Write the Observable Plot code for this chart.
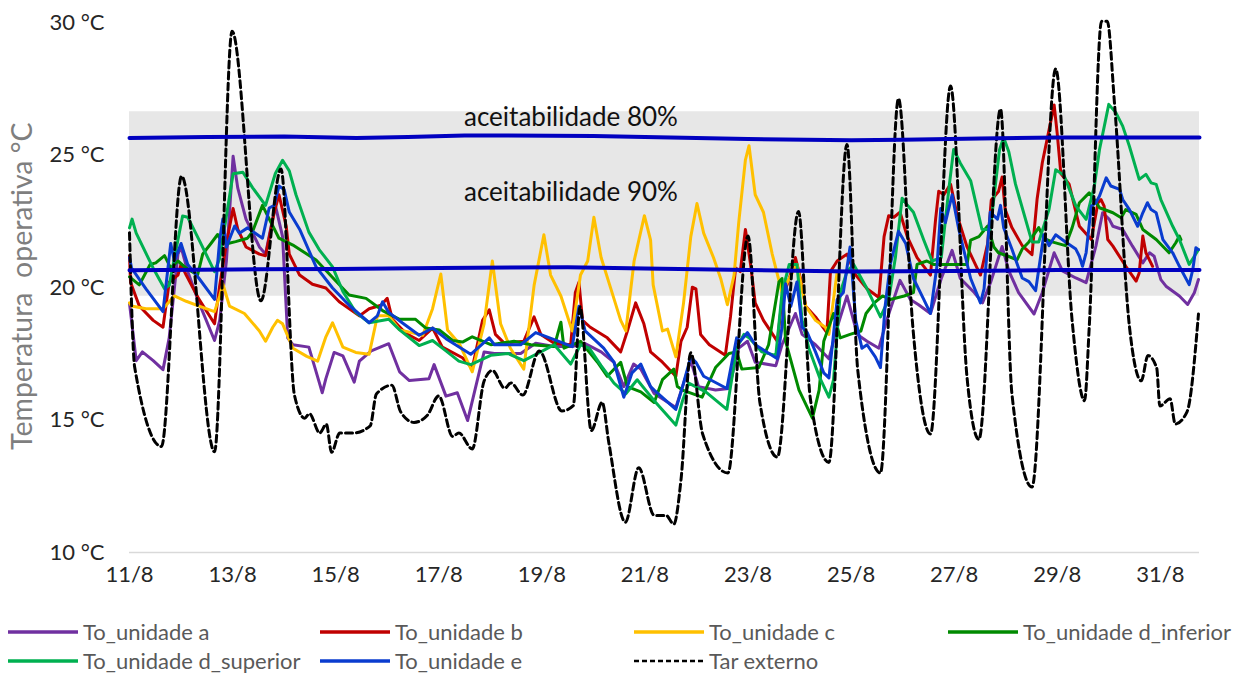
<!DOCTYPE html>
<html><head><meta charset="utf-8">
<script src="https://cdn.jsdelivr.net/npm/d3@7"></script>
<script src="https://cdn.jsdelivr.net/npm/@observablehq/plot@0.6"></script>
<style>
body{margin:0;background:#fff;font-family:Lato,"Open Sans",sans-serif;}
#chart{width:1256px;height:600px;}
#legend{position:relative;width:1256px;height:73px;}
.item{position:absolute;display:flex;align-items:center;height:26px;line-height:26px;font-size:22px;color:#595959;white-space:nowrap;}
.item svg{margin-right:5px;}
</style></head><body>
<div id="chart"></div><div id="legend"></div>
<script>
// day of August (fractional), temperature °C
const unidadeA = [[11.0,19.4],[11.13,17.24],[11.25,17.57],[11.46,17.24],[11.65,16.9],[11.77,18.1],[11.94,21.26],[12.0,21.53],[12.13,20.6],[12.35,19.42],[12.65,18.0],[12.75,18.76],[12.88,21.0],[13.01,24.95],[13.1,23.76],[13.26,22.58],[13.52,21.53],[13.64,21.26],[13.83,23.1],[13.97,21.92],[14.07,18.1],[14.17,17.84],
[14.48,17.75],[14.68,16.43],[14.74,16.03],[14.81,16.56],[14.97,17.55],[15.14,17.42],[15.36,16.43],[15.46,17.22],[15.69,17.61],[16.03,17.88],[16.24,16.82],[16.43,16.49],[16.81,16.56],[16.91,17.09],[17.14,15.9],[17.36,16.03],[17.56,14.98],
[17.88,17.57],[18.08,17.51],[18.59,17.51],[18.88,17.9],[19.24,17.77],[19.59,17.77],[19.82,17.9],[20.15,17.57],[20.4,17.18],[20.59,16.26],[20.78,17.11],[20.92,16.92],[21.18,16.0],
[21.6,15.47],[21.73,16.26],[21.89,17.24],[22.04,16.26],[22.37,16.13],[22.63,16.19],[22.82,17.71],[22.99,17.97],[23.14,17.18],[23.54,17.05],[23.66,17.84],[23.92,19.02],[24.05,18.23],[24.31,17.84],
[24.57,17.31],[24.73,18.5],[24.92,19.68],[25.12,18.23],[25.31,17.97],[25.54,17.71],[25.69,18.76],[25.95,20.27],[26.15,19.55],[26.31,19.35],[26.54,19.02],[26.75,20.34],[26.96,21.4],[27.12,20.34],[27.39,19.81],[27.55,19.42],[27.71,20.21],
[27.93,21.55],[28.06,20.63],[28.25,19.81],[28.55,19.0],[28.71,19.81],[28.94,21.31],[29.1,20.63],[29.36,20.36],
[29.56,20.18],[29.75,21.56],[29.88,22.82],[30.01,22.57],[30.08,22.31],[30.27,22.19],[30.46,21.56],[30.66,20.93],[30.79,21.31],[30.88,21.18],[31.01,20.3],[31.11,20.05],[31.37,19.68],[31.53,19.36],[31.66,19.8],[31.74,20.3]];

const unidadeB = [[11.0,21.2],[11.02,20.2],[11.19,19.3],[11.46,18.76],[11.65,18.5],[11.77,20.2],[11.94,20.47],[12.0,20.87],[12.1,20.47],[12.35,19.55],[12.65,18.63],[12.75,20.08],[12.88,21.66],[13.01,22.98],[13.1,22.2],[13.26,21.53],[13.52,21.26],[13.64,21.2],[13.81,22.85],[13.9,23.5],[14.04,22.32],[14.1,21.26],[14.3,20.47],
[14.55,20.12],[14.81,19.98],[15.07,19.46],[15.46,18.93],[15.65,19.2],[15.88,19.33],[16.0,19.59],[16.1,18.8],[16.36,18.27],[16.62,18.0],[16.88,18.47],[17.07,17.75],[17.46,17.35],[17.65,16.95],
[17.85,18.76],[17.98,19.16],[18.1,18.23],[18.27,17.9],[18.65,17.97],[18.85,18.89],[18.98,18.23],[19.24,17.9],[19.56,17.84],[19.65,19.81],[19.72,20.2],[19.79,18.76],[19.94,18.5],[20.27,18.1],[20.53,17.57],[20.66,18.36],[20.82,19.42],[20.98,18.63],[21.11,17.57],
[21.34,17.18],[21.6,16.65],[21.7,17.97],[21.82,18.5],[21.92,20.01],[21.99,19.95],[22.08,18.23],[22.25,17.84],[22.56,17.44],[22.66,18.89],[22.76,20.74],[22.85,20.6],[22.95,22.19],[23.05,20.87],[23.14,19.42],[23.3,18.76],[23.57,17.97],[23.66,19.55],[23.8,20.34],[23.92,21.13],[24.02,20.34],[24.12,19.29],[24.31,18.89],
[24.53,18.3],[24.6,20.6],[24.73,21.0],[24.92,21.26],[25.09,20.47],[25.31,19.95],[25.54,19.62],[25.64,21.92],[25.73,22.71],[25.83,22.65],[25.95,22.84],[26.09,21.92],[26.28,21.13],[26.54,20.47],[26.64,22.58],[26.7,23.63],[26.8,23.5],[26.93,23.9],[27.06,22.71],[27.25,21.53],[27.51,20.47],[27.65,21.66],[27.72,23.3],
[27.86,23.62],[27.93,24.17],[27.99,22.94],[28.12,22.26],[28.32,21.58],[28.51,21.24],[28.61,23.35],[28.71,24.71],[28.84,25.94],[28.94,26.89],[29.0,25.8],[29.07,24.3],[29.23,23.9],
[29.43,22.31],[29.66,21.81],[29.79,23.2],[29.85,23.32],[29.91,23.07],[29.98,21.81],[30.08,21.56],[30.33,20.8],[30.53,20.24],[30.59,20.55],[30.66,21.94],[30.72,21.31],[30.85,20.8]];

const unidadeC = [[11.0,19.42],[11.04,19.3],[11.32,19.2],[11.65,19.2],[11.87,19.68],[12.1,19.48],[12.35,19.3],[12.65,19.09],[12.75,19.68],[12.81,20.14],[12.94,19.3],[13.23,19.02],[13.52,18.36],[13.64,17.97],[13.78,18.5],[13.87,18.76],[13.97,18.63],[14.17,17.71],
[14.44,17.4],[14.65,17.22],[14.81,18.14],[14.94,18.67],[15.14,17.75],[15.39,17.55],[15.65,17.48],[15.81,18.93],[16.03,18.93],[16.24,18.4],[16.69,18.2],[16.88,19.2],[17.04,20.51],[17.17,18.4],[17.4,17.88],[17.65,16.82],
[17.88,18.63],[18.04,21.0],[18.2,18.63],[18.39,17.71],[18.65,16.92],[18.85,20.08],[19.04,21.99],[19.17,20.47],[19.37,19.68],[19.59,18.36],[19.75,20.47],[19.89,21.0],[20.01,22.65],[20.15,21.13],[20.34,19.95],[20.53,18.76],[20.63,18.36],[20.79,21.0],[20.99,22.71],[21.11,21.79],[21.16,20.1],
[21.34,18.36],[21.44,18.43],[21.6,17.38],[21.75,19.42],[21.89,21.92],[22.01,23.17],[22.14,22.05],[22.33,21.13],[22.47,20.34],[22.6,19.35],[22.73,20.47],[22.82,22.45],[22.95,24.82],[23.02,25.35],[23.14,23.5],[23.3,22.84],[23.47,21.26],[23.59,20.34],[23.66,19.81],[23.8,20.34],[23.95,20.87],[24.12,19.29],[24.31,18.76],[24.5,18.5],[24.57,18.23],[24.73,20.6]];

const unidadeDInf = [[11.0,20.4],[11.19,20.1],[11.4,20.87],[11.51,20.93],[11.68,21.2],[11.8,20.73],[11.94,21.0],[12.1,20.73],[12.32,20.47],[12.42,21.26],[12.58,21.66],[12.71,22.0],[12.77,21.8],[12.91,21.66],[13.06,21.73],[13.29,21.86],[13.39,22.12],[13.58,23.1],[13.68,22.7],[13.78,22.32],[13.9,21.86],[14.17,21.6],
[14.62,21.04],[14.94,20.38],[15.26,19.72],[15.59,19.59],[15.91,19.13],[16.24,18.8],[16.55,18.8],[16.75,18.47],[17.01,18.4],[17.27,18.0],[17.46,17.94],[17.65,18.14],
[18.01,17.84],[18.46,17.97],[18.79,17.84],[19.24,17.77],[19.37,18.69],[19.43,17.71],[19.75,17.97],[20.08,17.18],[20.27,16.65],[20.53,17.18],[20.66,16.26],[20.92,16.06],[21.18,15.66],
[21.34,16.52],[21.56,16.92],[21.63,16.26],[21.73,16.13],[22.11,15.86],[22.37,16.98],[22.63,17.51],[22.78,17.57],[22.88,16.92],[23.21,16.98],[23.4,17.84],[23.6,20.21],[23.66,20.34],[23.73,17.97],[23.99,16.13],[24.25,15.07],[24.38,16.13],
[24.47,17.97],[24.66,19.02],[24.79,18.1],[24.98,18.23],[25.19,18.36],[25.29,19.02],[25.45,19.42],[25.61,19.68],[25.76,19.55],[26.03,19.68],[26.21,19.81],[26.28,20.87],[26.47,21.0],[26.6,20.87],[27.06,20.87],[27.25,20.87],[27.32,21.79],[27.48,21.92],[27.65,22.32],[27.77,21.53],
[27.86,21.31],[28.06,21.17],[28.22,21.04],[28.32,21.45],[28.45,21.72],[28.64,22.26],[28.74,21.85],[28.9,21.72],[29.16,21.58],[29.29,22.26],
[29.43,23.2],[29.62,23.57],[29.72,23.32],[29.82,23.01],[30.08,22.82],[30.24,22.63],[30.33,22.94],[30.53,22.76],[30.66,22.19],[30.92,21.81],[31.17,21.31],[31.3,21.69],[31.37,21.94],[31.4,21.81]];

const unidadeDSup = [[11.0,22.25],[11.05,22.58],[11.13,22.05],[11.46,20.73],[11.68,19.95],[11.77,20.08],[11.94,21.8],[12.03,22.7],[12.13,22.65],[12.35,21.8],[12.65,20.6],[12.75,21.1],[13.01,24.29],[13.2,24.35],[13.39,23.76],[13.64,23.1],[13.83,24.3],[13.97,24.8],[14.1,24.4],[14.23,23.5],
[14.48,22.09],[14.68,21.43],[14.94,20.78],[15.14,19.85],[15.39,19.06],[15.65,18.67],[16.03,18.8],[16.24,18.4],[16.62,17.81],[16.88,18.0],[17.14,17.61],[17.39,17.22],[17.62,17.09],
[18.01,17.44],[18.34,17.51],[18.65,17.24],[18.98,17.57],[19.24,17.84],[19.56,17.11],[19.75,17.84],[19.92,17.71],[20.15,17.05],[20.4,16.39],[20.63,15.99],[20.85,16.52],[21.18,15.73],
[21.6,14.81],[21.73,15.73],[21.85,16.39],[22.18,16.06],[22.59,15.4],[22.78,17.71],[22.92,18.23],[23.02,18.1],[23.27,17.57],[23.54,17.44],[23.66,19.81],[23.8,20.87],[23.95,20.87],[24.05,18.76],[24.18,17.71],[24.38,16.65],
[24.57,15.86],[24.66,16.52],[24.79,19.81],[24.92,20.6],[25.05,20.87],[25.31,19.95],[25.57,18.89],[25.73,19.55],[25.86,21.13],[25.99,23.37],[26.09,23.11],[26.21,22.84],[26.41,21.79],[26.57,21.0],[26.75,21.13],[26.9,23.77],[26.99,25.21],[27.12,24.69],[27.32,24.03],[27.54,22.19],[27.7,22.19],
[27.88,25.2],[27.96,25.66],[28.06,25.12],[28.19,23.9],[28.51,21.72],[28.64,21.72],[28.84,22.94],[28.97,24.44],[29.13,24.24],[29.36,23.08],
[29.56,22.57],[29.72,23.83],[29.82,25.21],[30.0,26.91],[30.14,26.59],[30.27,26.09],[30.4,25.33],[30.59,24.08],[30.72,24.27],[30.82,23.95],[30.92,23.89],[31.01,23.32],[31.24,22.31],[31.37,21.81],[31.56,20.87],[31.66,21.18],[31.74,21.43]];

const unidadeE = [[11.0,21.13],[11.04,20.73],[11.32,19.95],[11.65,19.09],[11.8,21.66],[11.87,21.0],[12.0,21.66],[12.13,20.87],[12.35,20.34],[12.65,19.55],[12.75,21.8],[12.81,22.58],[12.88,21.53],[13.04,22.32],[13.13,22.05],[13.29,22.25],[13.58,21.86],[13.71,23.0],[13.81,23.1],[13.9,23.83],[14.0,23.7],[14.1,22.85],[14.3,22.2],
[14.62,20.78],[14.94,19.98],[15.26,19.33],[15.65,18.67],[15.81,18.93],[15.91,19.46],[16.03,19.06],[16.29,18.67],[16.62,18.2],[16.88,18.47],[17.14,18.07],[17.62,17.48],
[17.98,18.1],[18.08,17.84],[18.59,17.84],[18.88,18.3],[19.24,18.03],[19.59,17.77],[19.72,19.29],[19.84,18.36],[20.2,17.71],[20.4,17.18],[20.59,15.86],[20.75,16.78],[20.92,17.11],[21.11,16.26],[21.18,16.13],
[21.6,15.4],[21.73,16.26],[21.89,17.38],[21.99,17.18],[22.14,16.65],[22.59,16.19],[22.78,18.1],[22.85,17.97],[22.99,18.3],[23.14,17.84],[23.57,17.31],[23.66,18.5],[23.73,20.14],[23.83,19.29],[23.95,20.21],[24.05,18.5],[24.15,18.3],[24.31,17.57],
[24.47,16.78],[24.57,16.59],[24.73,19.55],[24.85,19.81],[24.98,21.53],[25.09,18.76],[25.21,17.71],[25.31,17.84],[25.47,17.38],[25.57,16.98],[25.66,19.29],[25.76,20.87],[25.92,22.12],[26.06,21.66],[26.21,20.34],[26.41,19.55],[26.54,19.02],[26.67,20.87],[26.74,22.98],[26.83,22.45],[26.96,23.5],[27.09,22.19],[27.32,20.34],[27.51,19.42],[27.58,19.95],[27.7,22.84],[27.84,22.58],
[27.9,23.1],[27.96,22.26],[28.12,21.45],[28.32,20.36],[28.45,20.22],[28.58,19.88],[28.74,21.99],[28.84,21.58],[28.97,21.99],[29.16,21.72],[29.36,21.45],
[29.43,21.18],[29.49,20.8],[29.56,21.31],[29.66,23.07],[29.75,23.2],[29.82,23.45],[29.95,24.14],[30.04,23.83],[30.21,23.7],[30.27,23.32],[30.4,22.94],[30.56,22.31],[30.66,22.82],[30.75,23.2],[30.82,22.94],[30.92,22.82],[31.05,21.81],[31.24,21.31],[31.37,20.8],[31.56,20.11],[31.63,20.68],[31.69,21.5],[31.74,21.43]];

const tarExterno = [[11.0,22.07],[11.1,17.0],[11.62,14.0],[12.01,24.2],[12.65,13.8],[12.99,29.67],[13.55,19.5],[13.94,24.47],[14.2,15.94],[14.4,15.07],
[14.49,15.24],[14.69,14.51],[14.82,14.84],[14.92,13.78],[15.08,14.51],[15.34,14.51],[15.67,14.78],[15.79,15.98],[16.09,16.31],[16.26,15.31],[16.52,14.91],[16.78,15.18],[17.0,15.91],[17.27,14.38],[17.39,14.51],[17.65,13.91],
[17.88,16.47],[18.04,16.87],[18.28,16.2],[18.4,16.4],[18.63,15.94],[18.95,17.6],[19.39,15.34],[19.61,15.54],[19.74,19.27],[19.96,14.6],[20.17,15.67],[20.3,14.14],[20.62,11.14],[20.88,13.2],[21.18,11.4],
[21.41,11.4],[21.56,11.07],[21.7,12.74],[21.89,17.54],[22.12,14.47],[22.61,13.0],[23.0,21.94],[23.23,15.67],[23.57,13.6],[23.98,22.87],[24.21,15.8],[24.57,13.4],
[24.92,25.4],[25.13,16.87],[25.57,13.0],[25.92,27.13],[26.2,18.47],[26.54,14.47],[26.93,27.6],[27.25,16.6],[27.48,14.27],[27.9,26.73],
[28.12,16.0],[28.51,12.47],[28.97,28.25],[29.29,18.72],[29.53,15.73],[29.62,18.48],[29.86,30.05],[29.97,30.05],[30.11,26.97],[30.4,18.54],[30.63,16.48],[30.76,17.43],[30.93,16.96],[30.99,15.53],[31.19,15.8],[31.29,14.85],[31.52,15.32],[31.74,19.0]];

const aceit80 = [[11,25.64],[12.5,25.68],[14,25.7],[15.4,25.64],[16.4,25.68],[17.5,25.74],[20,25.72],[21.5,25.66],[23,25.6],[25,25.56],[26,25.58],[27.5,25.62],[29,25.66],[31.76,25.66]];
const aceit90 = [[11,20.65],[13,20.68],[15,20.7],[17,20.74],[19.5,20.76],[21,20.72],[23,20.66],[25,20.6],[27,20.62],[29,20.66],[31.76,20.66]];

const bandDays = [11, 31.76];
const bandLow = [19.67, 19.67];
const bandHigh = [26.63, 26.63];

const labelTexts = ["aceitabilidade 80%", "aceitabilidade 90%"];
const labelDays = [17.49, 17.49];
const labelTemps = [26.42, 23.58];

const tickDays = [11, 13, 15, 17, 19, 21, 23, 25, 27, 29, 31];
const tickLabels = ["11/8","13/8","15/8","17/8","19/8","21/8","23/8","25/8","27/8","29/8","31/8"];
const yTicks = [10, 15, 20, 25, 30];
const yTickLabels = ["10 °C","15 °C","20 °C","25 °C","30 °C"];
const yTitle = "Temperatura  operativa °C";

const seriesNames = ["To_unidade a","To_unidade b","To_unidade c","To_unidade d_inferior","To_unidade d_superior","To_unidade e","Tar externo"];
const seriesColors = ["#7030a0","#c00000","#ffc000","#008a00","#00b050","#0a3ccf","#000000"];
const seriesData = [unidadeA, unidadeB, unidadeC, unidadeDInf, unidadeDSup, unidadeE, tarExterno];

const bandRows = bandDays.map((d, i) => ({day: d, low: bandLow[i], high: bandHigh[i]}));
const labelRows = labelTexts.map((t, i) => ({text: t, day: labelDays[i], temp: labelTemps[i]}));
const font = "Lato, 'Open Sans', sans-serif";

const lineMarks = seriesData.slice(0, 6).map((data, i) =>
  Plot.line(data, {x: d => d[0], y: d => d[1], stroke: seriesColors[i], strokeWidth: 3, strokeLinejoin: "round"}));

const chart = Plot.plot({
  width: 1256, height: 600,
  marginLeft: 129, marginRight: 57, marginTop: 22, marginBottom: 48,
  style: {fontFamily: font, fontSize: "22px", background: "#fff", overflow: "visible"},
  x: {domain: [11, 31.76]},
  y: {domain: [10, 30]},
  marks: [
    Plot.areaY(bandRows, {x: "day", y1: "low", y2: "high", fill: "#e7e7e7"}),
    Plot.ruleY([10], {stroke: "#d9d9d9", strokeWidth: 1.5}),
    ...lineMarks,
    Plot.line(tarExterno, {x: d => d[0], y: d => d[1], stroke: "#000", strokeWidth: 3, strokeDasharray: "7,4", curve: "monotone-x"}),
    Plot.line(aceit80, {x: d => d[0], y: d => d[1], stroke: "#0000c0", strokeWidth: 4}),
    Plot.line(aceit90, {x: d => d[0], y: d => d[1], stroke: "#0000c0", strokeWidth: 4}),
    Plot.text(labelRows, {x: "day", y: "temp", text: "text", textAnchor: "start", lineAnchor: "middle", fontSize: 26, fill: "#111"}),
    Plot.axisX(tickDays, {tickFormat: d => tickLabels[tickDays.indexOf(d)], tickSize: 0, tickPadding: 14, fontSize: 22, color: "#262626", label: null}),
    Plot.axisY(yTicks, {tickFormat: d => yTickLabels[yTicks.indexOf(d)], tickSize: 0, tickPadding: 25, fontSize: 22, color: "#262626", label: null}),
    Plot.text([{t: yTitle, y: 20.05}], {y: "y", text: "t", frameAnchor: "left", textAnchor: "middle", rotate: -90, dx: -107, fontSize: 28.5, fill: "#7f7f7f"})
  ]
});
document.getElementById("chart").appendChild(chart);

// legend
const legend = document.getElementById("legend");
const colLeft = [8, 320, 634, 948];
seriesNames.forEach((name, i) => {
  const item = document.createElement("div");
  item.className = "item";
  item.style.left = colLeft[i % 4] + "px";
  item.style.top = (19 + Math.floor(i / 4) * 29) + "px";
  const dashed = i === 6;
  item.innerHTML = `<svg width="70" height="6"><line x1="0" y1="3" x2="70" y2="3" stroke="${seriesColors[i]}" stroke-width="${dashed ? 2.5 : 3.5}" ${dashed ? 'stroke-dasharray="5,3"' : ''}/></svg><span>${name}</span>`;
  legend.appendChild(item);
});
</script>
</body></html>
